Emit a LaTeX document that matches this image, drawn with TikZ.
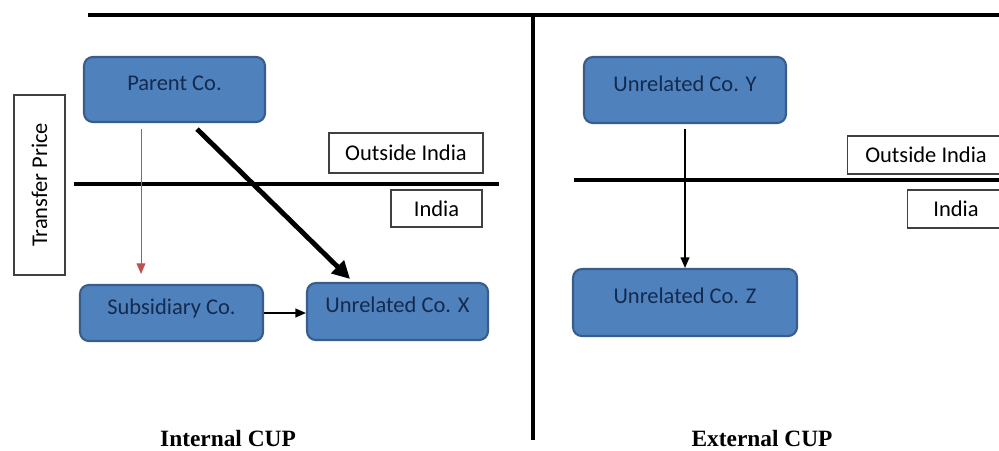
\documentclass[tikz,border=0pt]{standalone}
\usepackage{fontspec}
\setmainfont{Carlito}
\newfontfamily\capfont{Liberation Serif}
\usetikzlibrary{arrows.meta, positioning}

\definecolor{boxfill}{HTML}{4F81BD}
\definecolor{boxline}{HTML}{385D8A}
\definecolor{boxtext}{HTML}{142A4E}
\definecolor{tpred}{HTML}{C0504D}

\begin{document}
\begin{tikzpicture}[x=0.02cm, y=-0.02cm, semithick,
    co/.style={rectangle, rounded corners=5pt, draw=boxline, line width=1.2pt, fill=boxfill,
        text=boxtext, font=\fontsize{12.8}{15}\selectfont, text height=9pt, text depth=7.5pt},
    tag/.style={rectangle, draw=black!75, line width=0.6pt, fill=white, inner sep=0pt,
        font=\fontsize{12.8}{15}\selectfont},
    cup/.style={font=\capfont\bfseries\fontsize{13.3}{15}\selectfont},
    bar/.style={line width=#1, line cap=butt}]

\useasboundingbox (0,0) rectangle (999,450);

% Define nodes
\node[co, minimum width=3.62cm, minimum height=1.3cm] (parent) at (174.5,89.5) {Parent Co.};
\node[co, minimum width=3.66cm, minimum height=1.12cm] (subs) at (171.5,313) {Subsidiary Co.};
\node[co, minimum width=3.62cm, minimum height=1.14cm] (unrx) at (397.5,311.5) {Unrelated Co. X};
\node[co, minimum width=4.04cm, minimum height=1.32cm] (unry) at (685,90) {Unrelated Co. Y};
\node[co, minimum width=4.48cm, minimum height=1.34cm] (unrz) at (685,302.5) {Unrelated Co. Z};

% Region labels
\node[tag, rotate=90, minimum width=3.6cm, minimum height=1.02cm] (tprice) at (39.5,185) {Transfer Price};
\node[tag, minimum width=3.08cm, minimum height=0.8cm] (outl) at (406,153) {Outside India};
\node[tag, minimum width=1.82cm, minimum height=0.74cm] (indl) at (436.5,208.5) {India};
\node[tag, minimum width=3.16cm, minimum height=0.76cm] (outr) at (926,155) {Outside India};
\node[tag, minimum width=1.96cm, minimum height=0.76cm] (indr) at (956,209) {India};

% Captions
\node[cup] (intcup) at (228,438) {Internal CUP};
\node[cup] (extcup) at (762,438) {External CUP};

% Border lines
\coordinate (topl) at (88,15);
\coordinate (topr) at (1005,15);
\coordinate (divb) at (533,440);
\coordinate (midl) at (74,184);
\coordinate (midm) at (499,184);
\coordinate (midr) at (574,180);
\coordinate (mide) at (1005,180);

\draw[bar=2.8pt] (topl) -- (topr);
\draw[bar=2.3pt] (topl -| divb) -- (divb);
\draw[bar=2pt] (midl) -- (midm);
\draw[bar=2pt] (midr) -- (mide);

% Draw edges
\coordinate (redtop) at ([xshift=-0.67cm, yshift=-0.12cm]parent.south);
\draw[tpred, line width=0.5pt, -{Triangle[length=6pt, width=5pt]}, shorten >=0.2cm]
    (redtop) -- (redtop |- subs.north);

\path
    ([xshift=0.45cm, yshift=-0.12cm]parent.south)
        edge[line width=2.8pt, -{Triangle[length=10pt, width=10pt]}]
        ([xshift=-0.95cm, yshift=0.06cm]unrx.north)
    (subs.east) edge[line width=0.9pt, -{Triangle[length=6pt, width=5pt]}] (subs.east -| unrx.west)
    (unry) edge[line width=0.9pt, -{Triangle[length=6pt, width=5pt]}, shorten <=0.1cm] (unrz);

\end{tikzpicture}
\end{document}
